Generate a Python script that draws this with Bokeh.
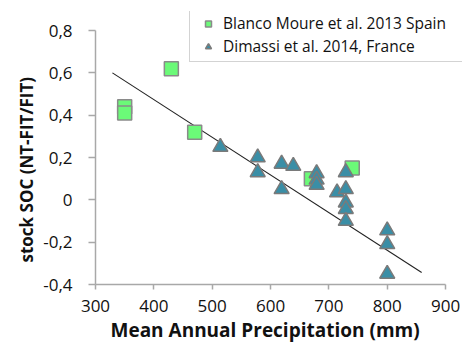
from bokeh.plotting import figure
from bokeh.models import Range1d, FixedTicker, Legend, LegendItem, Title
from bokeh.embed import file_html
from bokeh.resources import INLINE

# Blanco Moure et al. 2013 Spain
spain_x = [350, 350, 430, 470, 670, 740]
spain_y = [0.44, 0.41, 0.62, 0.32, 0.10, 0.15]

# Dimassi et al. 2014, France
france_x = [514, 578, 578, 619, 639, 619, 679, 679, 679, 714, 729, 729, 729, 729, 729, 800, 800, 800]
france_y = [0.25, 0.20, 0.13, 0.17, 0.16, 0.05, 0.125, 0.095, 0.07, 0.035, 0.13, 0.05, -0.013, -0.044, -0.10, -0.145, -0.21, -0.35]

# trend line end points
trend_x = [329, 859]
trend_y = [0.60, -0.343]

x_ticks = [300, 400, 500, 600, 700, 800, 900]
y_ticks = [-0.4, -0.2, 0, 0.2, 0.4, 0.6, 0.8]
y_tick_labels = ["-0,4", "-0,2", "0", "0,2", "0,4", "0,6", "0,8"]

FONT = "Open Sans"

p = figure(width=464, height=342, output_backend="svg", toolbar_location=None,
           x_range=Range1d(300, 929), y_range=Range1d(-0.4, 0.89),
           min_border_left=95, min_border_right=2, min_border_top=11, min_border_bottom=58)
p.outline_line_color = None
p.grid.visible = False

p.line(trend_x, trend_y, line_color="#222222", line_width=1.1)

r_sp = p.scatter(spain_x, spain_y, marker="square", size=14, fill_color="#6bfa78",
                 line_color="#8a8a8a", line_width=1.5)
r_fr = p.scatter(france_x, france_y, marker="triangle", size=15, fill_color="#3a8ea6",
                 line_color="#7a7a7a", line_width=1.5)

for ax in (p.xaxis[0], p.yaxis[0]):
    ax.axis_line_color = "#a8a8a8"
    ax.axis_line_width = 1.5
    ax.major_tick_line_color = "#a8a8a8"
    ax.major_tick_line_width = 1.5
    ax.major_tick_in = 0
    ax.minor_tick_line_color = None
    ax.major_label_text_font = FONT
    ax.major_label_text_font_size = "17px"
    ax.major_label_text_color = "#111111"

p.xaxis.ticker = FixedTicker(ticks=x_ticks)
p.xaxis.bounds = (300, 900)
p.xaxis.major_tick_out = 5
p.xaxis.major_label_standoff = 10

p.yaxis.ticker = FixedTicker(ticks=y_ticks)
p.yaxis.bounds = (-0.4, 0.8)
p.yaxis.major_tick_out = 7
p.yaxis.major_label_overrides = {t: l for t, l in zip(y_ticks, y_tick_labels)}
p.yaxis.major_label_standoff = 16

x_title = Title(text="Mean Annual Precipitation (mm)", align="left", offset=15,
                text_font=FONT, text_font_size="19px", text_font_style="bold",
                text_color="#111111", standoff=0)
p.add_layout(x_title, "below")
y_title = Title(text="stock SOC (NT-FIT/FIT)", align="left", offset=22,
                text_font=FONT, text_font_size="17px", text_font_style="bold",
                text_color="#111111", standoff=6)
p.add_layout(y_title, "left")

legend = Legend(items=[
    LegendItem(label="Blanco Moure et al. 2013 Spain", renderers=[r_sp]),
    LegendItem(label="Dimassi et al. 2014, France", renderers=[r_fr]),
], location=(94, 222))
p.add_layout(legend)
lg = p.legend[0]
lg.label_text_font = FONT
lg.label_text_font_size = "15.5px"
lg.label_text_color = "#111111"
lg.border_line_color = "#a8a8a8"
lg.border_line_width = 1.5
lg.glyph_width = 28
lg.glyph_height = 15
lg.spacing = 1
lg.padding = 4
lg.margin = 0
lg.label_standoff = 1
lg.label_height = 20
lg.label_width = 238

open("out.html", "w").write(file_html(p, INLINE))
